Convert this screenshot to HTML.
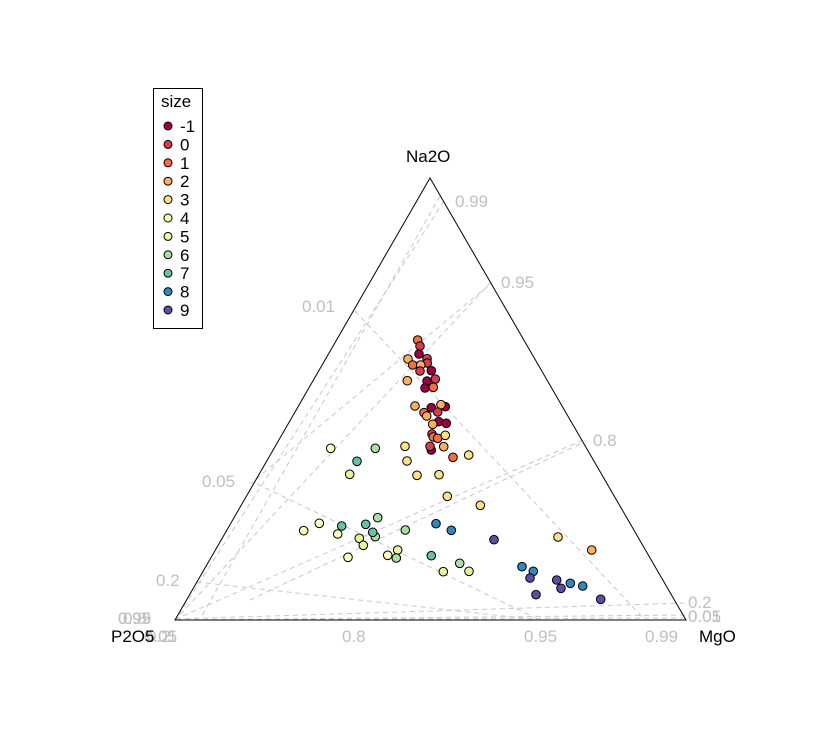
<!DOCTYPE html>
<html><head><meta charset="utf-8"><style>
html,body{margin:0;padding:0;background:#fff;}
svg{display:block;font-family:"Liberation Sans",sans-serif;}
</style></head><body>
<svg width="817" height="752" viewBox="0 0 817 752" xmlns="http://www.w3.org/2000/svg">
<rect width="817" height="752" fill="#fff"/>
<g stroke="#c8c8c8" stroke-width="1" stroke-dasharray="5,4" fill="none">
<line x1="444" y1="201" x2="176" y2="619"/>
<line x1="440" y1="196" x2="200" y2="619"/>
<line x1="491" y1="282" x2="176" y2="619"/>
<line x1="488" y1="286" x2="250" y2="484"/>
<line x1="583" y1="440" x2="176" y2="619"/>
<line x1="580" y1="444" x2="250" y2="600"/>
<line x1="355" y1="311" x2="645" y2="620"/>
<line x1="257" y1="484" x2="540" y2="620"/>
<line x1="197" y1="582" x2="540" y2="620"/>
<line x1="176" y1="619" x2="686" y2="603"/>
<line x1="176" y1="620" x2="686" y2="615"/>
<line x1="176" y1="620" x2="686" y2="618"/>
</g>
<polygon points="430,178 175,620 686,620" fill="none" stroke="#000" stroke-width="1"/>
<g fill="#c0c0c0" font-size="17">
<text x="455" y="207">0.99</text>
<text x="501" y="288">0.95</text>
<text x="593" y="446">0.8</text>
<text x="302" y="312">0.01</text>
<text x="202" y="487">0.05</text>
<text x="156" y="586">0.2</text>
<text x="118" y="624">0.99</text><text x="118" y="624">0.95</text><text x="123" y="624">0.8</text>
<text x="144" y="642">0.01</text><text x="144" y="642">0.05</text><text x="147" y="642">0.2</text>
<text x="342" y="642">0.8</text>
<text x="524" y="642">0.95</text>
<text x="645" y="642">0.99</text>
<text x="688" y="608">0.2</text>
<text x="688" y="622">0.05</text><text x="688" y="622">0.01</text>
</g>
<g fill="#000" font-size="17">
<text x="406" y="162">Na2O</text>
<text x="111" y="642">P2O5</text>
<text x="699" y="642">MgO</text>
</g>
<g stroke="#000" stroke-width="1">
<circle cx="417.7" cy="340" r="4.3" fill="#F46D43"/>
<circle cx="420" cy="346" r="4.3" fill="#D53E4F"/>
<circle cx="419" cy="354" r="4.3" fill="#9E0142"/>
<circle cx="408" cy="359" r="4.3" fill="#FDAE61"/>
<circle cx="427" cy="358.7" r="4.3" fill="#D53E4F"/>
<circle cx="427.3" cy="363" r="4.3" fill="#D53E4F"/>
<circle cx="412.7" cy="365" r="4.3" fill="#F46D43"/>
<circle cx="420.7" cy="365" r="4.3" fill="#FDAE61"/>
<circle cx="420" cy="371" r="4.3" fill="#D53E4F"/>
<circle cx="431.3" cy="370.7" r="4.3" fill="#9E0142"/>
<circle cx="407.3" cy="380.7" r="4.3" fill="#FDAE61"/>
<circle cx="427" cy="381" r="4.3" fill="#9E0142"/>
<circle cx="435.3" cy="379" r="4.3" fill="#D53E4F"/>
<circle cx="425" cy="388" r="4.3" fill="#9E0142"/>
<circle cx="433.3" cy="387.3" r="4.3" fill="#F46D43"/>
<circle cx="415" cy="406" r="4.3" fill="#FDAE61"/>
<circle cx="445.3" cy="406.7" r="4.3" fill="#9E0142"/>
<circle cx="441" cy="404.7" r="4.3" fill="#FDAE61"/>
<circle cx="431.3" cy="407.7" r="4.3" fill="#9E0142"/>
<circle cx="424" cy="412.7" r="4.3" fill="#F46D43"/>
<circle cx="437.7" cy="412" r="4.3" fill="#D53E4F"/>
<circle cx="426.7" cy="416" r="4.3" fill="#FDAE61"/>
<circle cx="438.7" cy="421.7" r="4.3" fill="#9E0142"/>
<circle cx="446.3" cy="423.3" r="4.3" fill="#9E0142"/>
<circle cx="432.7" cy="424.3" r="4.3" fill="#FDAE61"/>
<circle cx="432" cy="434" r="4.3" fill="#D53E4F"/>
<circle cx="433.3" cy="437" r="4.3" fill="#F46D43"/>
<circle cx="437.7" cy="438.3" r="4.3" fill="#F46D43"/>
<circle cx="445.3" cy="435.3" r="4.3" fill="#FEE08B"/>
<circle cx="431.3" cy="450" r="4.3" fill="#9E0142"/>
<circle cx="430" cy="446.3" r="4.3" fill="#D53E4F"/>
<circle cx="443.7" cy="446.7" r="4.3" fill="#FDAE61"/>
<circle cx="453" cy="457.3" r="4.3" fill="#F46D43"/>
<circle cx="468.7" cy="455" r="4.3" fill="#FEE08B"/>
<circle cx="405" cy="446.3" r="4.3" fill="#FEE08B"/>
<circle cx="407" cy="461" r="4.3" fill="#FEE08B"/>
<circle cx="417" cy="475.3" r="4.3" fill="#FEE08B"/>
<circle cx="439" cy="474.7" r="4.3" fill="#FEE08B"/>
<circle cx="447.3" cy="496.3" r="4.3" fill="#FEE08B"/>
<circle cx="480.3" cy="505.3" r="4.3" fill="#FEE08B"/>
<circle cx="330.7" cy="448.3" r="4.3" fill="#FFFFBF"/>
<circle cx="375.3" cy="448.3" r="4.3" fill="#ABDDA4"/>
<circle cx="357" cy="461.3" r="4.3" fill="#66C2A5"/>
<circle cx="349.7" cy="474.3" r="4.3" fill="#E6F598"/>
<circle cx="303.7" cy="530.7" r="4.3" fill="#FFFFBF"/>
<circle cx="319.3" cy="523.3" r="4.3" fill="#FFFFBF"/>
<circle cx="341.7" cy="526" r="4.3" fill="#66C2A5"/>
<circle cx="337.7" cy="534" r="4.3" fill="#FFFFBF"/>
<circle cx="365.7" cy="524.3" r="4.3" fill="#66C2A5"/>
<circle cx="377.7" cy="517.7" r="4.3" fill="#ABDDA4"/>
<circle cx="375.3" cy="536.7" r="4.3" fill="#ABDDA4"/>
<circle cx="372.7" cy="532.3" r="4.3" fill="#66C2A5"/>
<circle cx="359.3" cy="538.3" r="4.3" fill="#E6F598"/>
<circle cx="363.3" cy="545.3" r="4.3" fill="#E6F598"/>
<circle cx="348" cy="557.3" r="4.3" fill="#FFFFBF"/>
<circle cx="387.7" cy="555.3" r="4.3" fill="#FFFFBF"/>
<circle cx="397.7" cy="550" r="4.3" fill="#E6F598"/>
<circle cx="396.3" cy="558" r="4.3" fill="#ABDDA4"/>
<circle cx="405.3" cy="530" r="4.3" fill="#ABDDA4"/>
<circle cx="431.3" cy="555.7" r="4.3" fill="#66C2A5"/>
<circle cx="436" cy="523.7" r="4.3" fill="#3288BD"/>
<circle cx="451.3" cy="530.3" r="4.3" fill="#3288BD"/>
<circle cx="494" cy="539.7" r="4.3" fill="#5E4FA2"/>
<circle cx="443.3" cy="571.7" r="4.3" fill="#E6F598"/>
<circle cx="459.7" cy="563.3" r="4.3" fill="#ABDDA4"/>
<circle cx="469" cy="571.3" r="4.3" fill="#E6F598"/>
<circle cx="558" cy="537" r="4.3" fill="#FEE08B"/>
<circle cx="591.7" cy="550" r="4.3" fill="#FDAE61"/>
<circle cx="522" cy="566.7" r="4.3" fill="#3288BD"/>
<circle cx="533.3" cy="571.3" r="4.3" fill="#3288BD"/>
<circle cx="530" cy="578" r="4.3" fill="#5E4FA2"/>
<circle cx="556.7" cy="580" r="4.3" fill="#5E4FA2"/>
<circle cx="570.3" cy="583.3" r="4.3" fill="#3288BD"/>
<circle cx="561" cy="588.3" r="4.3" fill="#5E4FA2"/>
<circle cx="582.7" cy="586" r="4.3" fill="#3288BD"/>
<circle cx="536" cy="594.7" r="4.3" fill="#5E4FA2"/>
<circle cx="600.7" cy="599.3" r="4.3" fill="#5E4FA2"/>
</g>
<rect x="153.5" y="88.5" width="49" height="240" fill="#fff" stroke="#000" stroke-width="1"/>
<text x="161" y="107" font-size="17" fill="#000">size</text>
<g stroke="#000" stroke-width="1">
<circle cx="168" cy="126" r="4" fill="#9E0142"/>
<circle cx="168" cy="144.4" r="4" fill="#D53E4F"/>
<circle cx="168" cy="162.8" r="4" fill="#F46D43"/>
<circle cx="168" cy="181.2" r="4" fill="#FDAE61"/>
<circle cx="168" cy="199.6" r="4" fill="#FEE08B"/>
<circle cx="168" cy="218" r="4" fill="#FFFFBF"/>
<circle cx="168" cy="236.4" r="4" fill="#E6F598"/>
<circle cx="168" cy="254.8" r="4" fill="#ABDDA4"/>
<circle cx="168" cy="273.2" r="4" fill="#66C2A5"/>
<circle cx="168" cy="291.6" r="4" fill="#3288BD"/>
<circle cx="168" cy="310" r="4" fill="#5E4FA2"/>
</g>
<g font-size="17" fill="#000">
<text x="180" y="132">-1</text>
<text x="180" y="150.4">0</text>
<text x="180" y="168.8">1</text>
<text x="180" y="187.2">2</text>
<text x="180" y="205.6">3</text>
<text x="180" y="224">4</text>
<text x="180" y="242.4">5</text>
<text x="180" y="260.8">6</text>
<text x="180" y="279.2">7</text>
<text x="180" y="297.6">8</text>
<text x="180" y="316">9</text>
</g>
</svg>
</body></html>
